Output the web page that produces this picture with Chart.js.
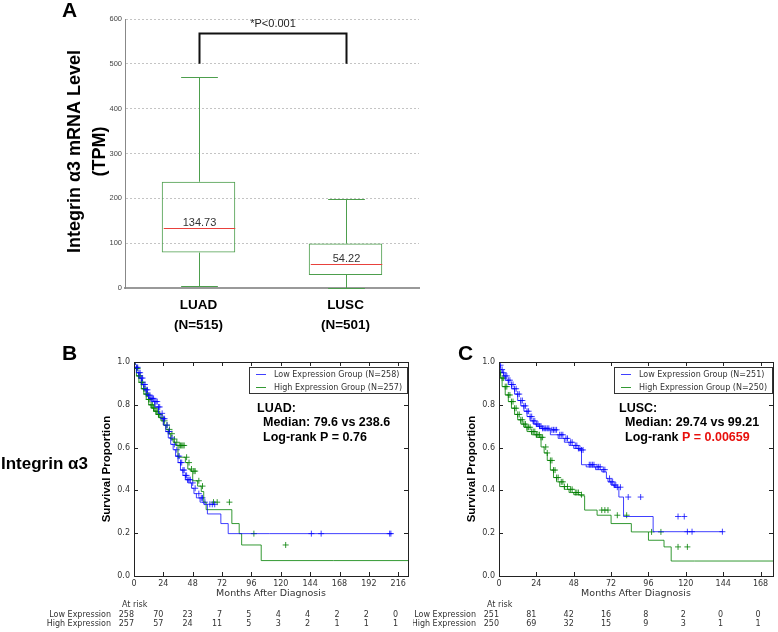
<!DOCTYPE html>
<html>
<head>
<meta charset="utf-8">
<script src="https://cdn.jsdelivr.net/npm/chart.js@4.4.0/dist/chart.umd.min.js"></script>
<style>
body{margin:0;background:#fff;width:778px;height:632px;position:relative;overflow:hidden;font-family:"Liberation Sans",Arial,sans-serif}
canvas{position:absolute}
.lbl{position:absolute;font-weight:bold;color:#000;line-height:1;white-space:nowrap}
</style>
</head>
<body>
<canvas id="boxChart" width="440" height="336" style="left:0px;top:0px"></canvas>
<canvas id="luadChart" width="413" height="296" style="left:0px;top:336px"></canvas>
<canvas id="luscChart" width="365" height="296" style="left:413px;top:336px"></canvas>
<div class="lbl" style="left:62px;top:-1px;font-size:21px">A</div>
<div class="lbl" style="left:62px;top:342px;font-size:21px">B</div>
<div class="lbl" style="left:458px;top:342px;font-size:21px">C</div>
<div class="lbl" style="left:1px;top:455px;font-size:17px">Integrin α3</div>
<script>
// ---- panel A: expression box plot ----
const groups = ['LUAD', 'LUSC'];
const groupN = ['(N=515)', '(N=501)'];
const boxMin = [5, 1];
const boxQ1 = [79, 29];
const boxMedian = [134.73, 54.22];
const boxQ3 = [237, 99];
const boxMax = [470, 199];
const tpmTicks = [0, 100, 200, 300, 400, 500, 600];
const sigLow = 500, sigTop = 569, sigText = '*P<0.001';

// ---- panel B: LUAD survival ----
const luadMonths = [0, 24, 48, 72, 96, 120, 144, 168, 192, 216];
const luadLow = [[0,1],[2,.975],[4,.95],[6,.925],[8,.895],[10,.87],[12,.845],[14,.83],[17,.815],[20,.79],[22,.76],[24,.735],[26,.705],[28,.675],[30,.645],[32,.615],[34,.59],[36,.56],[38,.53],[40,.495],[42,.47],[44,.45],[47,.435],[49,.41],[51,.385],[54,.365],[57,.345],[60,.335],[71,.29],[77,.245],[111,.198],[211,.198]];
const luadHigh = [[0,1],[2,.97],[4,.935],[6,.905],[8,.875],[10,.85],[12,.825],[14,.8],[16,.785],[18,.77],[20,.755],[22,.74],[24,.725],[26,.705],[28,.685],[30,.665],[32,.64],[34,.625],[36,.61],[42,.555],[44,.53],[46,.5],[48,.49],[52,.445],[55,.42],[57,.395],[59,.345],[80,.31],[86,.245],[88,.198],[104,.145],[163,.072],[224,.072]];
const luadLowCens = [[1,1],[2,.975],[3,.975],[4,.95],[5,.95],[6,.925],[7,.925],[8,.895],[9,.895],[10,.87],[11,.87],[12,.845],[13,.845],[14,.83],[15,.83],[16,.83],[17,.815],[18,.815],[19,.815],[20,.79],[21,.79],[23,.76],[24,.735],[25,.735],[27,.705],[28,.675],[29,.675],[31,.645],[33,.615],[35,.59],[36,.56],[37,.56],[38,.53],[39,.53],[40,.495],[41,.495],[42,.47],[43,.47],[44,.45],[45,.45],[46,.45],[48,.435],[50,.41],[53,.385],[55,.365],[56,.365],[58,.345],[62,.335],[64,.335],[66,.335],[145,.198],[153,.198],[209,.198],[210,.198]];
const luadHighCens = [[1,1],[2,.97],[3,.97],[4,.935],[5,.935],[6,.905],[7,.905],[8,.875],[9,.875],[10,.85],[11,.85],[12,.825],[13,.825],[14,.8],[15,.8],[16,.785],[17,.785],[18,.77],[19,.77],[20,.755],[21,.755],[23,.74],[25,.725],[27,.705],[29,.685],[31,.665],[33,.64],[35,.625],[37,.61],[38,.61],[39,.61],[40,.61],[41,.61],[43,.555],[45,.53],[47,.5],[49,.49],[50,.49],[53,.445],[56,.42],[65,.345],[68,.345],[78,.345],[98,.198],[124,.145]];
const luadRiskLow = [258, 70, 23, 7, 5, 4, 4, 2, 2, 0];
const luadRiskHigh = [257, 57, 24, 11, 5, 3, 2, 1, 1, 1];

// ---- panel C: LUSC survival ----
const luscMonths = [0, 24, 48, 72, 96, 120, 144, 168];
const luscLow = [[0,1],[1,.985],[2,.965],[3,.95],[4,.935],[6,.915],[8,.895],[10,.875],[12,.85],[14,.82],[16,.795],[18,.77],[20,.745],[22,.725],[24,.71],[26,.7],[28,.69],[33,.683],[38,.66],[42,.643],[45,.625],[48,.61],[51,.596],[53,.589],[56,.52],[62,.51],[66,.497],[69,.487],[70,.456],[72,.44],[74,.425],[77,.415],[80,.369],[99,.278],[120,.207],[143.5,.207]];
const luscHigh = [[0,1],[1,.95],[2,.925],[4,.885],[6,.846],[8,.815],[10,.784],[12,.755],[14,.73],[16,.71],[18,.695],[21,.675],[24,.66],[27,.648],[29,.603],[31,.575],[33,.54],[35,.495],[37,.46],[39,.44],[42,.418],[45,.405],[48,.39],[52,.38],[55,.375],[63,.308],[72,.284],[85,.245],[96,.206],[106,.167],[110.6,.136],[125.5,.07],[177,.07]];
const luscLowCens = [[1,.985],[2,.965],[3,.95],[4,.935],[5,.935],[6,.915],[7,.915],[8,.895],[9,.895],[10,.875],[11,.875],[12,.85],[13,.85],[14,.82],[15,.82],[16,.795],[17,.795],[18,.77],[19,.77],[20,.745],[21,.745],[22,.725],[23,.725],[24,.71],[25,.71],[26,.7],[27,.7],[28,.69],[29,.69],[30,.69],[31,.69],[32,.69],[34,.683],[35,.683],[36,.683],[37,.683],[39,.66],[40,.66],[41,.66],[43,.643],[44,.643],[46,.625],[47,.625],[49,.61],[50,.61],[51,.596],[52,.596],[53,.589],[54,.589],[58,.52],[59,.52],[60,.52],[61,.52],[63,.51],[64,.51],[65,.51],[67,.497],[68,.497],[71,.456],[72,.44],[73,.44],[74,.425],[75,.425],[76,.415],[78,.415],[83,.369],[91,.369],[115,.278],[119,.278],[121,.207],[124,.207],[143.5,.207]];
const luscHighCens = [[1,.95],[2,.925],[3,.925],[4,.885],[5,.885],[6,.846],[7,.846],[8,.815],[9,.815],[10,.784],[11,.784],[12,.755],[13,.755],[14,.73],[15,.73],[16,.71],[17,.71],[18,.695],[19,.695],[20,.695],[21,.675],[22,.675],[23,.675],[24,.66],[25,.66],[26,.66],[27,.648],[28,.648],[30,.603],[31,.575],[33,.54],[34,.54],[35,.495],[36,.495],[37,.46],[38,.46],[40,.44],[41,.44],[42,.418],[44,.418],[46,.405],[47,.405],[49,.39],[50,.39],[51,.39],[53,.38],[66,.308],[68,.308],[70,.308],[76,.284],[82,.284],[98,.206],[104,.206],[115,.136],[121,.136]];
const luscRiskLow = [251, 81, 42, 16, 8, 2, 0, 0];
const luscRiskHigh = [250, 69, 32, 15, 9, 3, 1, 1];

const GREEN_BOX = '#4d9e4d';
const BLUE = 'rgba(0,0,255,0.75)';
const GREEN = 'rgba(0,128,0,0.8)';

Chart.defaults.font.family = 'DejaVu Sans';

function px(v){ return Math.round(v) + 0.5; }

const boxExtras = {
  id: 'boxExtras',
  afterDatasetsDraw(chart){
    const ctx = chart.ctx, x = chart.scales.x, y = chart.scales.y;
    const bars = chart.getDatasetMeta(0).data;
    ctx.save();
    ctx.lineWidth = 1;
    groups.forEach((g, i) => {
      const cx = px(x.getPixelForValue(i));
      const hw = bars[i].width / 2;
      ctx.strokeStyle = GREEN_BOX;
      ctx.beginPath();
      ctx.moveTo(cx, y.getPixelForValue(boxQ3[i])); ctx.lineTo(cx, px(y.getPixelForValue(boxMax[i])));
      ctx.moveTo(cx, y.getPixelForValue(boxQ1[i])); ctx.lineTo(cx, px(y.getPixelForValue(boxMin[i])));
      ctx.moveTo(cx - hw / 2, px(y.getPixelForValue(boxMax[i]))); ctx.lineTo(cx + hw / 2, px(y.getPixelForValue(boxMax[i])));
      ctx.moveTo(cx - hw / 2, px(y.getPixelForValue(boxMin[i]))); ctx.lineTo(cx + hw / 2, px(y.getPixelForValue(boxMin[i])));
      ctx.stroke();
      const my = px(y.getPixelForValue(boxMedian[i]));
      ctx.strokeStyle = '#e8413c';
      ctx.beginPath(); ctx.moveTo(cx - hw + 1, my); ctx.lineTo(cx + hw - 1, my); ctx.stroke();
      ctx.fillStyle = '#333';
      ctx.font = '11px "Liberation Sans"';
      ctx.textAlign = 'center'; ctx.textBaseline = 'alphabetic';
      ctx.fillText(boxMedian[i].toFixed(2), cx, my - 3);
    });
    // significance bracket
    const x1 = px(x.getPixelForValue(0)), x2 = px(x.getPixelForValue(1));
    const yl = y.getPixelForValue(sigLow), yt = px(y.getPixelForValue(sigTop));
    ctx.strokeStyle = '#111'; ctx.lineWidth = 2;
    ctx.beginPath(); ctx.moveTo(x1, yl); ctx.lineTo(x1, yt); ctx.lineTo(x2, yt); ctx.lineTo(x2, yl); ctx.stroke();
    ctx.fillStyle = '#222'; ctx.font = '11px "Liberation Sans"';
    ctx.textBaseline = 'middle';
    ctx.fillText(sigText, (x1 + x2) / 2, y.getPixelForValue(590));
    // y title
    const ca = chart.chartArea;
    ctx.fillStyle = '#000'; ctx.font = 'bold 18px "Liberation Sans"';
    ctx.translate(75, (ca.top + ca.bottom) / 2 - 2);
    ctx.rotate(-Math.PI / 2);
    ctx.fillText('Integrin α3 mRNA Level', 0, 0);
    ctx.fillText('(TPM)', 0, 25);
    ctx.restore();
  }
};

new Chart(document.getElementById('boxChart'), {
  type: 'bar',
  data: {
    labels: groups.map((g, i) => [g, groupN[i]]),
    datasets: [{
      data: groups.map((g, i) => [boxQ1[i], boxQ3[i]]),
      backgroundColor: 'rgba(0,0,0,0)',
      borderColor: GREEN_BOX,
      borderWidth: 1,
      borderSkipped: false,
      categoryPercentage: 1,
      barPercentage: 0.5
    }]
  },
  options: {
    responsive: false, animation: false, events: [],
    layout: { padding: { left: 103, right: 21, top: 19, bottom: 0 } },
    plugins: { legend: { display: false }, tooltip: { enabled: false } },
    scales: {
      x: {
        grid: { display: false, drawTicks: false },
        border: { color: '#999', width: 2 },
        ticks: { padding: 7, color: '#000', font: { family: 'Liberation Sans', size: 13.5, weight: 'bold', lineHeight: 1.48 } },
        afterFit: s => { s.height = 48; }
      },
      y: {
        min: 0, max: 600,
        afterBuildTicks: s => { s.ticks = tpmTicks.map(v => ({ value: v })); },
        grid: { color: '#c4c4c4', drawTicks: false },
        border: { color: '#888', width: 1, dash: [2, 2] },
        ticks: { padding: 3, color: '#444', font: { family: 'Liberation Sans', size: 7.5 } },
        afterFit: s => { s.width = 22; }
      }
    }
  },
  plugins: [boxExtras]
});

const kmExtras = {
  id: 'kmExtras',
  afterDraw(chart, args, o){
    const ctx = chart.ctx, a = chart.chartArea, x = chart.scales.x, y = chart.scales.y;
    ctx.save();
    ctx.strokeStyle = '#222'; ctx.lineWidth = 1;
    ctx.strokeRect(px(a.left), px(a.top), Math.round(a.right - a.left), Math.round(a.bottom - a.top));
    ctx.beginPath();
    y.ticks.forEach(t => {
      const py = px(y.getPixelForValue(t.value));
      ctx.moveTo(a.left, py); ctx.lineTo(a.left + 4, py);
      ctx.moveTo(a.right, py); ctx.lineTo(a.right - 4, py);
    });
    x.ticks.forEach(t => {
      const pxx = px(x.getPixelForValue(t.value));
      ctx.moveTo(pxx, a.bottom); ctx.lineTo(pxx, a.bottom - 4);
      ctx.moveTo(pxx, a.top); ctx.lineTo(pxx, a.top + 4);
    });
    ctx.stroke();

    // axis titles
    ctx.fillStyle = '#333';
    ctx.font = '9.5px "DejaVu Sans"';
    ctx.textAlign = 'center'; ctx.textBaseline = 'middle';
    ctx.fillText('Months After Diagnosis', (a.left + a.right) / 2, a.bottom + 18);
    ctx.save();
    ctx.fillStyle = '#000';
    ctx.font = 'bold 11.5px "Liberation Sans"';
    ctx.translate(a.left - 27, (a.top + a.bottom) / 2);
    ctx.rotate(-Math.PI / 2);
    ctx.fillText('Survival Proportion', 0, 0);
    ctx.restore();

    // legend
    const lx = a.right - 159, ly = a.top + 5;
    ctx.fillStyle = '#fff'; ctx.fillRect(lx, ly, 158, 26);
    ctx.strokeStyle = '#333'; ctx.strokeRect(px(lx), px(ly), 158, 26);
    ctx.font = '8px "DejaVu Sans"';
    ctx.textAlign = 'left';
    [0, 1].forEach(i => {
      const ds = chart.data.datasets[i];
      const ry = px(ly + 7 + i * 13);
      ctx.strokeStyle = ds.borderColor;
      ctx.beginPath(); ctx.moveTo(lx + 7, ry); ctx.lineTo(lx + 17, ry); ctx.stroke();
      ctx.fillStyle = '#333';
      ctx.fillText(ds.label, lx + 25, ry);
    });

    // annotation
    ctx.font = 'bold 12.5px "Liberation Sans"';
    ctx.fillStyle = '#000';
    ctx.fillText(o.cohort, a.left + o.noteX, a.top + 47);
    ctx.fillText(o.median, a.left + o.noteX + 6, a.top + 61);
    let tx = a.left + o.noteX + 6;
    o.logrank.forEach(seg => {
      ctx.fillStyle = seg.c;
      ctx.fillText(seg.t, tx, a.top + 76);
      tx += ctx.measureText(seg.t).width;
    });

    // at-risk table
    ctx.font = '8px "DejaVu Sans"';
    ctx.fillStyle = '#333';
    ctx.textAlign = 'left';
    ctx.fillText('At risk', a.left - 12, a.bottom + 29);
    ctx.textAlign = 'right';
    ctx.fillText('Low Expression', a.left - 23, a.bottom + 38.5);
    ctx.fillText('High Expression', a.left - 23, a.bottom + 48);
    o.months.forEach((m, j) => {
      const mx = x.getPixelForValue(m);
      ctx.fillText(String(o.riskLow[j]), mx, a.bottom + 38.5);
      ctx.fillText(String(o.riskHigh[j]), mx, a.bottom + 48);
    });
    ctx.restore();
  }
};

function toXY(pairs){ return pairs.map(p => ({ x: p[0], y: p[1] })); }

function kmChart(id, pad, xMax, months, low, high, lowCens, highCens, lowLabel, highLabel, note){
  return new Chart(document.getElementById(id), {
    type: 'scatter',
    data: {
      datasets: [
        { label: lowLabel, data: toXY(low), showLine: true, stepped: 'after', borderColor: BLUE, borderWidth: 1, pointRadius: 0 },
        { label: highLabel, data: toXY(high), showLine: true, stepped: 'after', borderColor: GREEN, borderWidth: 1, pointRadius: 0 },
        { data: toXY(lowCens), showLine: false, pointStyle: 'cross', pointRadius: 3, borderColor: BLUE, borderWidth: 1 },
        { data: toXY(highCens), showLine: false, pointStyle: 'cross', pointRadius: 3, borderColor: GREEN, borderWidth: 1 }
      ]
    },
    options: {
      responsive: false, animation: false, events: [],
      layout: { padding: pad },
      plugins: { legend: { display: false }, tooltip: { enabled: false }, kmExtras: note },
      scales: {
        x: {
          type: 'linear', min: 0, max: xMax,
          afterBuildTicks: s => { s.ticks = months.map(v => ({ value: v })); },
          grid: { display: false, drawTicks: false },
          border: { display: false },
          ticks: { padding: 3, color: '#333', font: { size: 8 } },
          afterFit: s => { s.height = 20; }
        },
        y: {
          min: 0, max: 1,
          afterBuildTicks: s => { s.ticks = [0, 0.2, 0.4, 0.6, 0.8, 1].map(v => ({ value: v })); },
          grid: { display: false, drawTicks: false },
          border: { display: false },
          ticks: { padding: 4, color: '#333', font: { size: 8 }, callback: v => v.toFixed(1) },
          afterFit: s => { s.width = 30; }
        }
      }
    },
    plugins: [kmExtras]
  });
}

kmChart('luadChart', { left: 104, right: 2, top: 26, bottom: 36 }, 224, luadMonths,
  luadLow, luadHigh, luadLowCens, luadHighCens,
  'Low Expression Group (N=258)', 'High Expression Group (N=257)',
  { cohort: 'LUAD:', median: 'Median: 79.6 vs 238.6', logrank: [{ t: 'Log-rank P = 0.76', c: '#000' }],
    noteX: 123, months: luadMonths, riskLow: luadRiskLow, riskHigh: luadRiskHigh });

kmChart('luscChart', { left: 56, right: 1, top: 26, bottom: 36 }, 176, luscMonths,
  luscLow, luscHigh, luscLowCens, luscHighCens,
  'Low Expression Group (N=251)', 'High Expression Group (N=250)',
  { cohort: 'LUSC:', median: 'Median: 29.74 vs 99.21', logrank: [{ t: 'Log-rank ', c: '#000' }, { t: 'P = 0.00659', c: '#e8100c' }],
    noteX: 120, months: luscMonths, riskLow: luscRiskLow, riskHigh: luscRiskHigh });
</script>
</body>
</html>
